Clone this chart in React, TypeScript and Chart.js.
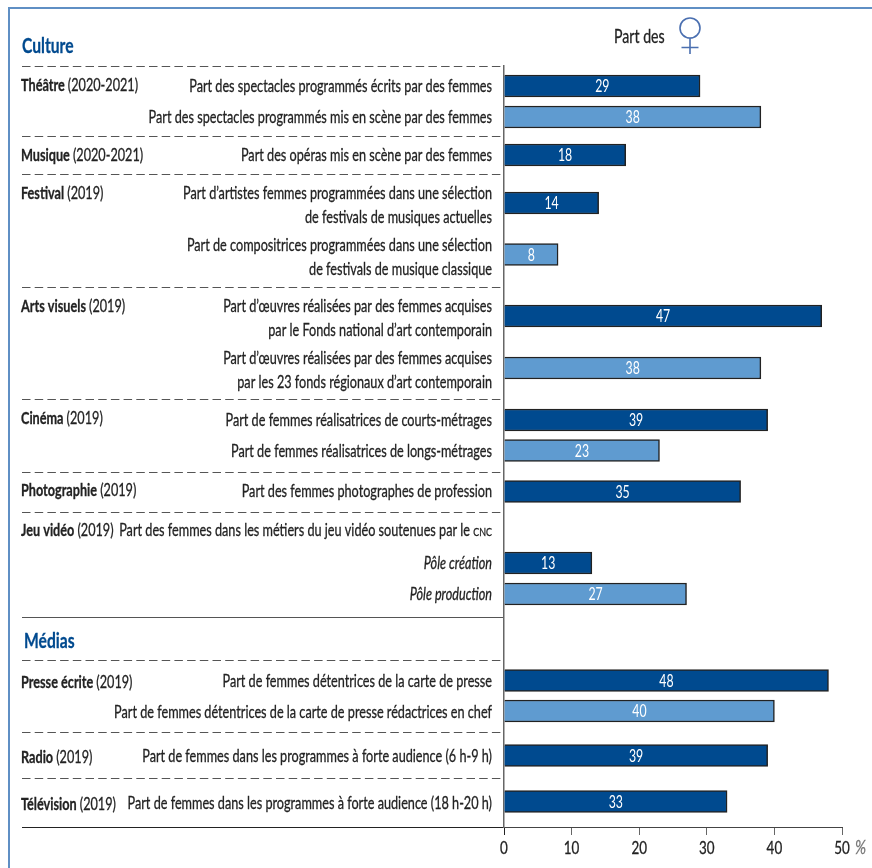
import React, { useEffect, useRef } from "react";
import { Chart, registerables } from "chart.js";

Chart.register(...registerables);

const FONT = 'Lato, "Open Sans", sans-serif';
const INK = "#222222";
const NAVY = "#004a8f";
const SKY = "#5f9bd0";
const FRAME = "#5f8fc4";
// Horizontal squeeze that gives the installed face its condensed set width
const SQUEEZE = 0.745;

// Indicators, top to bottom
const indicators: (string | string[])[] = [
  "Part des spectacles programmés écrits par des femmes",
  "Part des spectacles programmés mis en scène par des femmes",
  "Part des opéras mis en scène par des femmes",
  ["Part d’artistes femmes programmées dans une sélection", "de festivals de musiques actuelles"],
  ["Part de compositrices programmées dans une sélection", "de festivals de musique classique"],
  ["Part d’œuvres réalisées par des femmes acquises", "par le Fonds national d’art contemporain"],
  ["Part d’œuvres réalisées par des femmes acquises", "par les 23 fonds régionaux d’art contemporain"],
  "Part de femmes réalisatrices de courts-métrages",
  "Part de femmes réalisatrices de longs-métrages",
  "Part des femmes photographes de profession",
  "Pôle création",
  "Pôle production",
  "Part de femmes détentrices de la carte de presse",
  "Part de femmes détentrices de la carte de presse rédactrices en chef",
  "Part de femmes dans les programmes à forte audience (6 h-9 h)",
  "Part de femmes dans les programmes à forte audience (18 h-20 h)",
];
const womenShare = [29, 38, 18, 14, 8, 47, 38, 39, 23, 35, 13, 27, 48, 40, 39, 33];
const lightBars = [false, true, false, false, true, false, true, false, true, false, false, true, false, true, false, false];
const italicRows = [10, 11];

// Sector names and their reference periods
const sectorNames = ["Théâtre", "Musique", "Festival", "Arts visuels", "Cinéma", "Photographie", "Jeu vidéo", "Presse écrite", "Radio", "Télévision"];
const sectorYears = ["(2020-2021)", "(2020-2021)", "(2019)", "(2019)", "(2019)", "(2019)", "(2019)", "(2019)", "(2019)", "(2019)"];
const groupTitles = ["Culture", "Médias"];
const xTicks = [0, 10, 20, 30, 40, 50];

// Vertical layout on the hidden row axis, which runs 1:1 with the plot height
const rowCentres = [86, 117, 155, 203, 254.5, 316, 368, 420, 450.5, 491.5, 563, 594, 680.5, 711, 755.5, 801.5];
const labelCentres = [86, 117, 155, 205, 256.5, 318, 370, 420, 450.5, 490.5, 563, 593.5, 681, 711.5, 756, 803];
const sectorLabelY = [85, 155, 193, 306, 418, 490, 530, 681.5, 756.5, 804];
const groupTitleY = [45, 640];
const dashedRules = [66, 136, 174, 287, 399, 472, 512, 660, 732, 778];
const solidRule = 617;
const jeuVideoNote = "Part des femmes dans les métiers du jeu vidéo soutenues par le ";

const decorations = {
  id: "decorations",
  beforeDraw(chart: any) {
    const { ctx, scales } = chart;
    const y = scales.y;
    const x = scales.x;
    const zero = x.getPixelForValue(0);
    ctx.save();

    // Frame on the top and left edges
    ctx.strokeStyle = FRAME;
    ctx.lineWidth = 2;
    ctx.beginPath();
    ctx.moveTo(9, 868);
    ctx.lineTo(9, 8);
    ctx.lineTo(872, 8);
    ctx.stroke();

    // Section rules
    ctx.strokeStyle = "#555";
    ctx.lineWidth = 1;
    ctx.setLineDash([8.5, 4.2]);
    for (const r of dashedRules) {
      const py = Math.round(y.getPixelForValue(r)) + 0.5;
      ctx.beginPath();
      ctx.moveTo(22, py);
      ctx.lineTo(zero, py);
      ctx.stroke();
    }
    ctx.setLineDash([]);
    const sy = Math.round(y.getPixelForValue(solidRule)) + 0.5;
    ctx.beginPath();
    ctx.moveTo(22, sy);
    ctx.lineTo(zero, sy);
    ctx.stroke();

    // Baseline continues left under the label column
    const base = Math.round(y.getPixelForValue(y.max)) + 0.5;
    ctx.strokeStyle = "#222";
    ctx.beginPath();
    ctx.moveTo(22, base);
    ctx.lineTo(zero, base);
    ctx.stroke();

    // Group titles
    ctx.textBaseline = "middle";
    ctx.textAlign = "left";
    ctx.fillStyle = NAVY;
    ctx.font = `bold 21px ${FONT}`;
    ctx.fillText(groupTitles[0], 22, y.getPixelForValue(groupTitleY[0]));
    ctx.fillText(groupTitles[1], 24, y.getPixelForValue(groupTitleY[1]));

    // Sector names with their years
    sectorNames.forEach((name, i) => {
      const py = y.getPixelForValue(sectorLabelY[i]);
      ctx.fillStyle = INK;
      ctx.font = `bold 17px ${FONT}`;
      ctx.fillText(name, 21, py);
      const w = ctx.measureText(name + " ").width * SQUEEZE;
      ctx.font = `17px ${FONT}`;
      ctx.fillText(sectorYears[i], 21 + w, py);
    });

    // Sentence on the video-game row, ending in small capitals
    const gy = y.getPixelForValue(sectorLabelY[6]);
    ctx.textAlign = "right";
    ctx.font = `12px ${FONT}`;
    ctx.fillText("CNC", 492, gy + 1);
    const cnc = ctx.measureText("CNC").width * SQUEEZE;
    ctx.font = `17px ${FONT}`;
    ctx.fillText(jeuVideoNote, 492 - cnc, gy);

    // "Part des" heading and the Venus sign
    ctx.textAlign = "left";
    ctx.fillStyle = INK;
    ctx.font = `19px ${FONT}`;
    ctx.fillText("Part des", 614, 36);
    ctx.strokeStyle = "#4a6fb0";
    ctx.lineWidth = 1.6;
    ctx.beginPath();
    ctx.arc(690, 28, 10, 0, Math.PI * 2);
    ctx.moveTo(690, 38);
    ctx.lineTo(690, 54);
    ctx.moveTo(681.5, 47.5);
    ctx.lineTo(698.5, 47.5);
    ctx.stroke();

    // Unit beside the last tick
    ctx.fillStyle = "#777";
    ctx.font = `italic 20px ${FONT}`;
    ctx.fillText("%", 855, 847);
    ctx.restore();
  },
  afterDatasetsDraw(chart: any) {
    const { ctx } = chart;
    ctx.save();
    ctx.fillStyle = "#ffffff";
    ctx.font = `16.5px ${FONT}`;
    ctx.textAlign = "center";
    ctx.textBaseline = "middle";
    chart.getDatasetMeta(0).data.forEach((bar: any, i: number) => {
      ctx.fillText(String(womenShare[i]), (bar.base + bar.x) / 2, bar.y);
    });
    ctx.restore();
  },
};

export default function App() {
  const ref = useRef<HTMLCanvasElement>(null);

  useEffect(() => {
    document.body.style.margin = "0";
    const canvas = ref.current!;
    const ctx = canvas.getContext("2d") as any;

    // All canvas text goes through the horizontal squeeze, around its own anchor.
    // On dark text a hairline stroke brings back the stem weight the squeeze takes away.
    ctx.fillText = (text: string, tx: number, ty: number) => {
      ctx.save();
      ctx.translate(tx, ty + 1);
      ctx.scale(SQUEEZE, 1);
      if (ctx.fillStyle !== "#ffffff") {
        ctx.strokeStyle = ctx.fillStyle;
        ctx.lineWidth = 0.3;
        ctx.setLineDash([]);
        CanvasRenderingContext2D.prototype.strokeText.call(ctx, text, 0, 0);
      }
      CanvasRenderingContext2D.prototype.fillText.call(ctx, text, 0, 0);
      ctx.restore();
    };

    const chart = new Chart(canvas, {
      type: "bar",
      plugins: [decorations],
      data: {
        datasets: [
          {
            data: womenShare.map((v, i) => ({ x: v, y: rowCentres[i] })) as any,
            backgroundColor: lightBars.map((l) => (l ? SKY : NAVY)),
            borderColor: "#222",
            borderWidth: 1.5,
            barThickness: 22,
          },
        ],
      },
      options: {
        indexAxis: "y",
        animation: false,
        responsive: false,
        layout: { padding: { left: 0, right: 30, top: dashedRules[0], bottom: 0 } },
        plugins: { legend: { display: false }, tooltip: { enabled: false } },
        scales: {
          x: {
            type: "linear",
            min: 0,
            max: 50,
            afterFit: (s: any) => {
              s.height = 41;
            },
            afterBuildTicks: (s: any) => {
              s.ticks = xTicks.map((value) => ({ value }));
            },
            grid: {
              drawOnChartArea: false,
              drawTicks: true,
              tickLength: 8,
              color: (c: any) => (c.index === 0 ? "#222" : "#666"),
            },
            border: { color: "#444", width: 1 },
            ticks: {
              color: INK,
              padding: 1,
              font: { family: FONT, size: 18 },
              maxRotation: 0,
              autoSkip: false,
            },
          },
          y: {
            type: "linear",
            reverse: true,
            offset: false,
            min: dashedRules[0],
            max: 827,
            afterFit: (s: any) => {
              s.width = 504;
              s.paddingTop = 0;
              s.paddingBottom = 0;
            },
            afterBuildTicks: (s: any) => {
              s.ticks = labelCentres.map((value) => ({ value }));
            },
            grid: { display: false, drawTicks: false },
            border: { color: "#666", width: 1.5 },
            ticks: {
              autoSkip: false,
              color: INK,
              padding: 12,
              font: (c: any) => ({
                family: FONT,
                size: 17,
                lineHeight: 1.41,
                style: italicRows.includes(c.index) ? "italic" : "normal",
              }),
              callback: (v: any) => indicators[labelCentres.indexOf(v)],
            },
          },
        },
      },
    });
    return () => {
      chart.destroy();
      delete ctx.fillText;
    };
  }, []);

  return <canvas ref={ref} width={872} height={868} style={{ display: "block" }} />;
}
